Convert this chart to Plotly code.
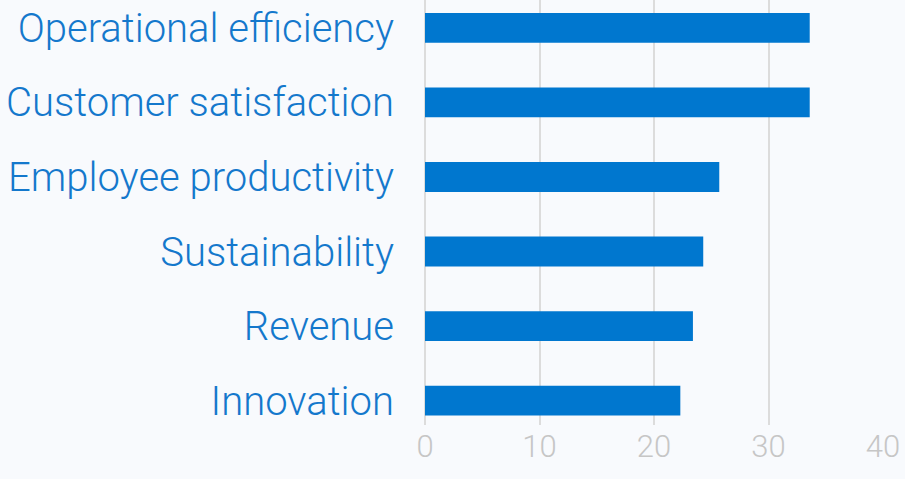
import plotly.graph_objects as go

categories = ["Innovation", "Revenue", "Sustainability", "Employee productivity",
              "Customer satisfaction", "Operational efficiency"]
values = [22.3, 23.4, 24.3, 25.7, 33.6, 33.6]
x_ticks = [0, 10, 20, 30, 40]

BLUE = "#0077CF"
fig = go.Figure(go.Bar(
    y=categories, x=values, orientation="h",
    marker=dict(color=BLUE, line=dict(width=0)),
    width=0.4, hoverinfo="x+y",
))

fig.update_layout(
    width=905, height=479,
    margin=dict(l=425, r=22, t=0, b=54),
    paper_bgcolor="#f8fafd", plot_bgcolor="rgba(0,0,0,0)",
    showlegend=False,
    font=dict(family="Roboto, Lato, sans-serif"),
)
fig.update_xaxes(
    range=[0, 40], tickvals=x_ticks, showgrid=True,
    gridcolor="#dcdcdc", gridwidth=2,
    zeroline=True, zerolinecolor="#dcdcdc", zerolinewidth=2,
    showline=False, ticks="",
    tickfont=dict(size=31, color="#c6c6c6", family="Roboto", weight=300),
)
fig.update_yaxes(
    range=[-0.326, 5.373], showgrid=False, zeroline=False, showline=False,
    ticks="", ticklabelstandoff=30,
    tickfont=dict(size=40, color="#1478CC", family="Roboto", weight=300),
)

fig.write_html("out.html")
